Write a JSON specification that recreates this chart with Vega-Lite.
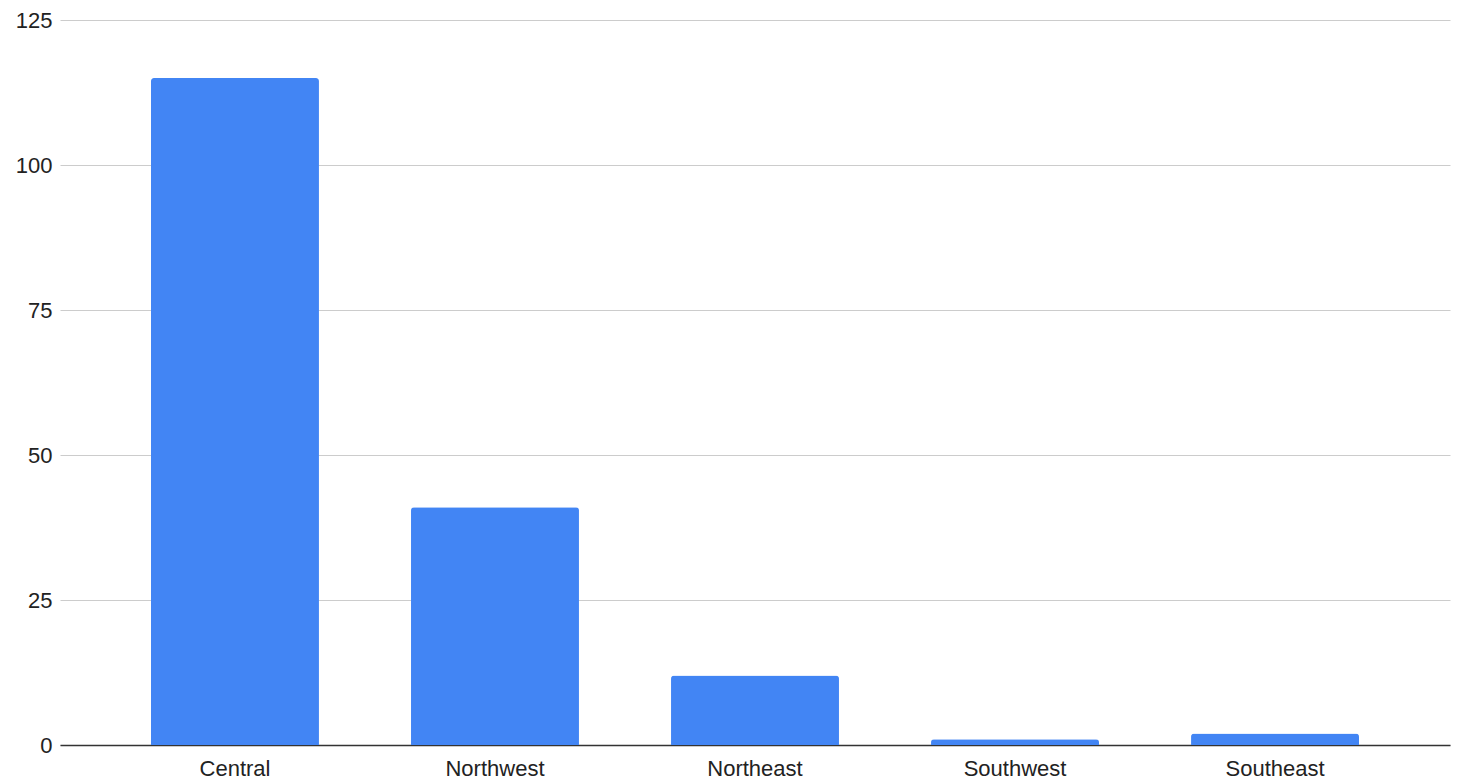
{
  "$schema": "https://vega.github.io/schema/vega-lite/v6.json",
  "width": 1390,
  "height": 725,
  "autosize": {"type": "none"},
  "padding": {"left": 60, "top": 20, "right": 8, "bottom": 39},
  "background": "#ffffff",
  "data": {
    "values": [
      {"region": "Central", "value": 115},
      {"region": "Northwest", "value": 41},
      {"region": "Northeast", "value": 12},
      {"region": "Southwest", "value": 1},
      {"region": "Southeast", "value": 2}
    ]
  },
  "mark": {"type": "bar", "color": "#4285F4", "cornerRadiusTopLeft": 3, "cornerRadiusTopRight": 3},
  "encoding": {
    "x": {
      "field": "region",
      "type": "nominal",
      "sort": null,
      "scale": {"paddingInner": 0.354, "paddingOuter": 0.35},
      "axis": {
        "title": null,
        "labelAngle": 0,
        "ticks": false,
        "domainColor": "#333333",
        "domainWidth": 1.5,
        "labelFont": "Liberation Sans",
        "labelFontSize": 22,
        "labelColor": "#222222",
        "labelPadding": 13
      }
    },
    "y": {
      "field": "value",
      "type": "quantitative",
      "scale": {"domain": [0, 125]},
      "axis": {
        "title": null,
        "values": [0, 25, 50, 75, 100, 125],
        "ticks": false,
        "domain": false,
        "gridColor": "#cccccc",
        "gridWidth": 1,
        "labelFont": "Liberation Sans",
        "labelFontSize": 22,
        "labelColor": "#222222",
        "labelPadding": 8
      }
    }
  },
  "config": {"view": {"stroke": null}}
}
